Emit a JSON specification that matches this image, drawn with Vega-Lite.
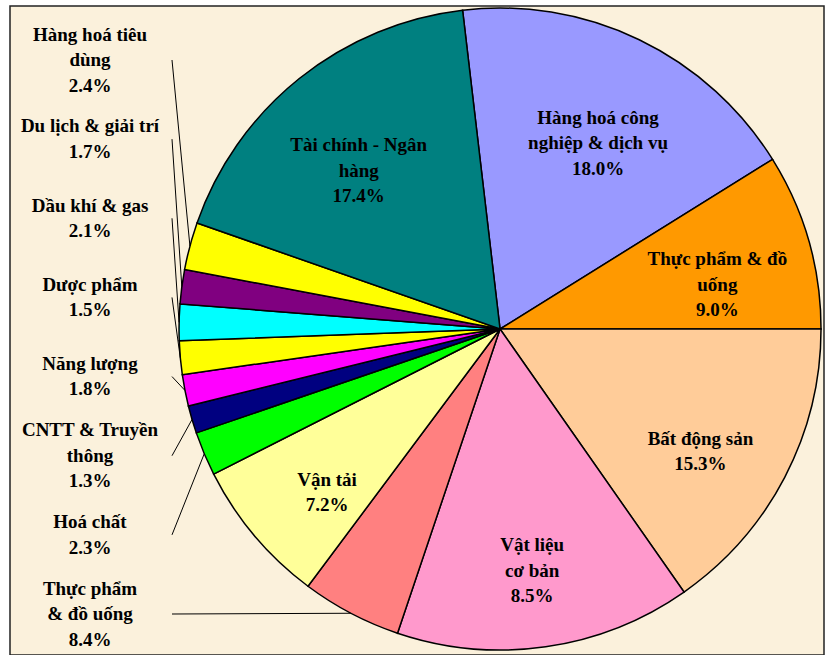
{
  "$schema": "https://vega.github.io/schema/vega-lite/v6.json",
  "width": 814,
  "height": 649,
  "autosize": {"type": "none"},
  "padding": {"left": 10, "top": 6, "right": 6, "bottom": 0},
  "background": "white",
  "config": {"view": {"fill": "#FBF1DC", "stroke": "#222222", "strokeWidth": 1.5}},
  "data": {
    "values": [
      {"label": "Hàng hoá công\nnghiệp & dịch vụ\n18.0%", "share": 18.0},
      {"label": "Thực phẩm & đồ\nuống\n9.0%", "share": 8.86},
      {"label": "Bất động sản\n15.3%", "share": 15.28},
      {"label": "Vật liệu\ncơ bản\n8.5%", "share": 14.89},
      {"label": "Thực phẩm\n& đồ uống\n8.4%", "share": 5.03},
      {"label": "Vận tải\n7.2%", "share": 7.33},
      {"label": "Hoá chất\n2.3%", "share": 2.22},
      {"label": "CNTT & Truyền\nthông\n1.3%", "share": 1.39},
      {"label": "Năng lượng\n1.8%", "share": 1.58},
      {"label": "Dược phẩm\n1.5%", "share": 1.69},
      {"label": "Dầu khí & gas\n2.1%", "share": 1.83},
      {"label": "Du lịch & giải trí\n1.7%", "share": 1.72},
      {"label": "Hàng hoá tiêu\ndùng\n2.4%", "share": 2.39},
      {"label": "Tài chính - Ngân\nhàng\n17.4%", "share": 17.78}
    ]
  },
  "transform": [
    {"window": [{"op": "row_number", "as": "idx"}]},
    {"joinaggregate": [{"op": "sum", "field": "share", "as": "total"}]},
    {"window": [{"op": "sum", "field": "share", "as": "cum"}], "sort": [{"field": "idx"}], "frame": [null, 0]},
    {"calculate": "-0.11694 + 2*PI*(datum.cum - datum.share/2)/datum.total", "as": "mid"}
  ],
  "layer": [
    {
      "mark": {"type": "arc", "x": {"expr": "width*0.602"}, "y": {"expr": "height*0.4977"}, "outerRadius": 321, "stroke": "black", "strokeWidth": 1.5},
      "encoding": {
        "theta": {"field": "share", "type": "quantitative", "stack": true, "scale": {"range": [-0.11694, 6.16625]}},
        "order": {"field": "idx", "type": "quantitative"},
        "color": {
          "field": "label",
          "type": "nominal",
          "legend": null,
          "scale": {
            "domain": [
              "Hàng hoá công\nnghiệp & dịch vụ\n18.0%",
              "Thực phẩm & đồ\nuống\n9.0%",
              "Bất động sản\n15.3%",
              "Vật liệu\ncơ bản\n8.5%",
              "Thực phẩm\n& đồ uống\n8.4%",
              "Vận tải\n7.2%",
              "Hoá chất\n2.3%",
              "CNTT & Truyền\nthông\n1.3%",
              "Năng lượng\n1.8%",
              "Dược phẩm\n1.5%",
              "Dầu khí & gas\n2.1%",
              "Du lịch & giải trí\n1.7%",
              "Hàng hoá tiêu\ndùng\n2.4%",
              "Tài chính - Ngân\nhàng\n17.4%"
            ],
            "range": ["#9999FF", "#FF9900", "#FFCC99", "#FF99CC", "#FF8080", "#FFFF99", "#00FF00", "#000080", "#FF00FF", "#FFFF00", "#00FFFF", "#800080", "#FFFF00", "#008080"]
          }
        }
      }
    },
    {
      "transform": [{"filter": "datum.share >= 6"}],
      "mark": {"type": "text", "x": {"expr": "width*0.602"}, "y": {"expr": "height*0.4977"}, "radius": 226, "dy": {"expr": "18 - (length(split(datum.label, '\\n')) - 1) * 12.75"}, "font": "Liberation Serif", "fontWeight": "bold", "fontSize": 19, "lineHeight": 25.5, "lineBreak": "\n", "align": "center", "baseline": "middle", "color": "black"},
      "encoding": {
        "theta": {"field": "mid", "type": "quantitative", "scale": null},
        "text": {"field": "label", "type": "nominal"}
      }
    },
    {
      "transform": [
        {"filter": "datum.share < 6"},
        {"window": [{"op": "row_number", "as": "k"}], "sort": [{"field": "idx", "order": "descending"}]},
        {"calculate": "54 + (datum.k - 1) * 554 / 7", "as": "ly"},
        {"calculate": "162", "as": "sx"},
        {"calculate": "490 + 321 * sin(datum.mid)", "as": "ex"},
        {"calculate": "323 - 321 * cos(datum.mid)", "as": "ey"}
      ],
      "layer": [
        {
          "mark": {"type": "rule", "stroke": "black", "strokeWidth": 1},
          "encoding": {
            "x": {"field": "sx", "type": "quantitative", "scale": null, "axis": null},
            "x2": {"field": "ex"},
            "y": {"field": "ly", "type": "quantitative", "scale": null, "axis": null},
            "y2": {"field": "ey"}
          }
        },
        {
          "mark": {"type": "text", "x": {"expr": "width*0.0983"}, "dy": {"expr": "-(length(split(datum.label, '\\n')) - 1) * 12.75"}, "font": "Liberation Serif", "fontWeight": "bold", "fontSize": 19, "lineHeight": 25.5, "lineBreak": "\n", "align": "center", "baseline": "middle", "color": "black"},
          "encoding": {
            "y": {"field": "ly", "type": "quantitative", "scale": null, "axis": null},
            "text": {"field": "label", "type": "nominal"}
          }
        }
      ]
    }
  ]
}
